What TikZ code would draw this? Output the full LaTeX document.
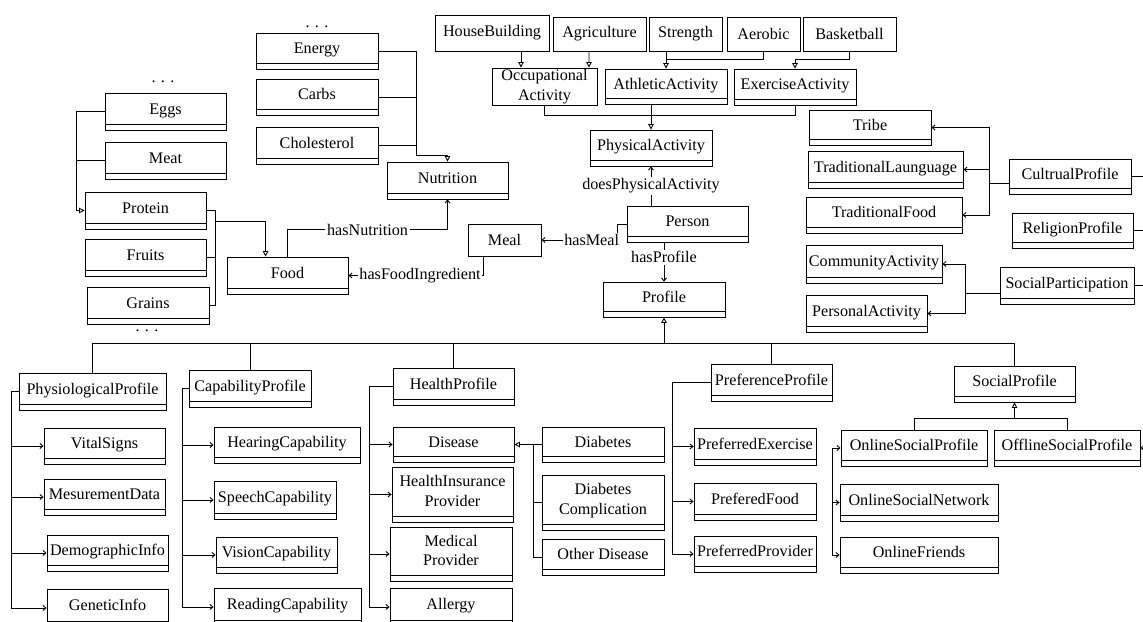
\documentclass[tikz,border=0pt]{standalone}
\usepackage{fontspec}
\setmainfont{Liberation Serif}
\usetikzlibrary{arrows.meta,calc}

\begin{document}
\begin{tikzpicture}[
    x=0.02cm, y=-0.02cm,
    line width=0.5pt,
    plainbox/.style={
        draw=black,
        fill=white,
        inner sep=0pt,
        align=center,
        font=\fontsize{9.2}{11}\selectfont},
    classbox/.style={
        plainbox,
        path picture={\draw[line width=0.8pt]
            ([yshift=0.11cm]path picture bounding box.south west) --
            ([yshift=0.11cm]path picture bounding box.south east);},
        execute at end node={\rule[-4pt]{0pt}{11pt}}},
    wh/.style 2 args={minimum width=#1*0.02cm, minimum height=#2*0.02cm},
    genarrow/.style={-{Triangle[open,length=1.1mm,width=1.1mm]}},
    assocarrow/.style={-{Straight Barb[length=0.6mm,width=1mm]}},
    rolelabel/.style={fill=white, inner sep=1pt, font=\fontsize{9.2}{11}\selectfont},
    elide/.style={inner sep=0pt, font=\fontsize{9.2}{11}\selectfont}
]
\useasboundingbox (0,0) rectangle (1143,622);

% food and nutrition
\node[elide] (ndots) at (317,27) {. . .};
\node[classbox, wh={122}{36}] (energy) at (317,51) {Energy};
\node[classbox, wh={122}{36}] (carbs) at (317,97) {Carbs};
\node[classbox, wh={122}{37}] (chol) at (317,145.5) {Cholesterol};
\node[classbox, wh={121}{37}] (nutrition) at (447.5,180.5) {Nutrition};
\node[elide] (fdots) at (163,82) {. . .};
\node[classbox, wh={121}{37}] (eggs) at (165.5,111.5) {Eggs};
\node[classbox, wh={121}{37}] (meat) at (165.5,160.5) {Meat};
\node[classbox, wh={121}{37}] (protein) at (145.5,210.5) {Protein};
\node[classbox, wh={121}{37}] (fruits) at (145.5,257.5) {Fruits};
\node[classbox, wh={122}{37}] (grains) at (148,305.5) {Grains};
\node[elide] (gdots) at (147,331) {. . .};
\node[classbox, wh={121}{37}] (food) at (287.5,275.5) {Food};
\node[plainbox, wh={73}{32}] (meal) at (504.5,240) {Meal};

% activities
\node[plainbox, wh={114}{36}] (house) at (492,33) {HouseBuilding};
\node[plainbox, wh={93}{34}] (agri) at (599.5,34) {Agriculture};
\node[plainbox, wh={73}{34}] (strength) at (685.5,34) {Strength};
\node[plainbox, wh={73}{34}] (aerobic) at (763.5,34) {Aerobic};
\node[plainbox, wh={93}{34}] (basket) at (849.5,34) {Basketball};
\node[plainbox, wh={105}{37}] (occup) at (544.5,86.5) {Occupational\\Activity};
\node[classbox, wh={122}{35}] (athletic) at (666,86.5) {AthleticActivity};
\node[classbox, wh={122}{36}] (exercise) at (795,87) {ExerciseActivity};
\node[classbox, wh={122}{36}] (physact) at (651,148) {PhysicalActivity};
\node[classbox, wh={121}{36}] (person) at (687.5,224) {Person};
\node[classbox, wh={122}{35}] (profile) at (664,299.5) {Profile};

% culture and participation
\node[classbox, wh={122}{35}] (tribe) at (870,127.5) {Tribe};
\node[classbox, wh={155}{37}] (tradlang) at (885.5,169.5) {TraditionalLaunguage};
\node[classbox, wh={156}{36}] (tradfood) at (884,215) {TraditionalFood};
\node[classbox, wh={122}{35}] (cultural) at (1070,176.5) {CultrualProfile};
\node[classbox, wh={121}{35}] (religion) at (1072.5,230.5) {ReligionProfile};
\node[classbox, wh={136}{38}] (community) at (874,264) {CommunityActivity};
\node[classbox, wh={121}{37}] (personal) at (866.5,313.5) {PersonalActivity};
\node[classbox, wh={134}{37}] (socpart) at (1067,285.5) {SocialParticipation};

% profile tree
\node[classbox, wh={147}{37}] (physio) at (92.5,391.5) {PhysiologicalProfile};
\node[classbox, wh={121}{36}] (vital) at (104.5,446) {VitalSigns};
\node[classbox, wh={121}{36}] (mesure) at (104.5,497) {MesurementData};
\node[classbox, wh={121}{36}] (demo) at (107.5,553) {DemographicInfo};
\node[classbox, wh={121}{38}] (genetic) at (107.5,608) {GeneticInfo};
\node[classbox, wh={122}{37}] (capab) at (250,388.5) {CapabilityProfile};
\node[classbox, wh={146}{36}] (hearing) at (287,445) {HearingCapability};
\node[classbox, wh={122}{38}] (speech) at (275,500) {SpeechCapability};
\node[classbox, wh={121}{36}] (vision) at (276.5,555) {VisionCapability};
\node[classbox, wh={147}{38}] (reading) at (287.5,607) {ReadingCapability};
\node[classbox, wh={121}{37}] (health) at (453.5,386.5) {HealthProfile};
\node[classbox, wh={121}{35}] (disease) at (453.5,444.5) {Disease};
\node[classbox, wh={121}{55}] (insur) at (452.5,494.5) {HealthInsurance\\Provider};
\node[classbox, wh={122}{54}] (medprov) at (451,554) {Medical\\Provider};
\node[classbox, wh={122}{38}] (allergy) at (451,607) {Allergy};
\node[classbox, wh={122}{35}] (diab) at (603,444.5) {Diabetes};
\node[classbox, wh={122}{55}] (diabcomp) at (603,502.5) {Diabetes\\Complication};
\node[classbox, wh={122}{36}] (otherdis) at (603,557) {Other Disease};
\node[classbox, wh={121}{37}] (pref) at (771.5,382.5) {PreferenceProfile};
\node[classbox, wh={122}{37}] (prefex) at (755,446.5) {PreferredExercise};
\node[classbox, wh={122}{37}] (preffood) at (755,501.5) {PreferedFood};
\node[classbox, wh={122}{36}] (prefprov) at (755,554) {PreferredProvider};
\node[classbox, wh={121}{36}] (social) at (1014.5,384) {SocialProfile};
\node[classbox, wh={146}{36}] (online) at (914,448) {OnlineSocialProfile};
\node[classbox, wh={146}{36}] (offline) at (1067,448) {OfflineSocialProfile};
\node[classbox, wh={158}{37}] (onnet) at (919,502.5) {OnlineSocialNetwork};
\node[classbox, wh={158}{36}] (onfriends) at (919,555) {OnlineFriends};

% bus lines
\coordinate (nbus) at (416,155);
\coordinate (ebus) at (76,0);
\coordinate (fbus) at (215,221);
\coordinate (cbus) at (990,0);
\coordinate (redge) at (1143,0);
\coordinate (pbus) at (0,343);
\coordinate (phbus) at (11,0);
\coordinate (cpbus) at (182,0);
\coordinate (hpbus) at (369,0);
\coordinate (dbus) at (533,0);
\coordinate (prbus) at (672,0);
\coordinate (obus) at (832,0);

% nutrition and food
\draw (energy.east) -| (nbus);
\draw (carbs.east) -- (carbs.east -| nbus);
\draw (chol.east) -- (chol.east -| nbus);
\draw[genarrow] (nbus) -| (nutrition.north);
\draw[genarrow] (eggs.west) -- (eggs.west -| ebus) |- (protein.west);
\draw (meat.west) -- (meat.west -| ebus);
\draw (protein.east) -- (protein.east -| fbus) |- (grains.east);
\draw (fruits.east) -- (fruits.east -| fbus);
\draw[genarrow] (fbus) -| ($(food.north west)+(39,0)$);
\draw[assocarrow] (food.north) -- ++(0,-27) -| (nutrition.south)
    node[rolelabel, pos=0.25] {hasNutrition};
\draw[assocarrow] ($(meal.south west)+(16,0)$) |- (food.east)
    node[rolelabel, pos=0.735] {hasFoodIngredient};
\draw[assocarrow] (person.west) -- ++(-9,0) |- (meal.east)
    node[rolelabel, pos=0.67] {hasMeal};
\draw[assocarrow] (physact.south |- person.north) -- (physact.south)
    node[rolelabel, midway] {doesPhysicalActivity};
\draw[assocarrow] (profile.north |- person.south) -- (profile.north)
    node[rolelabel, pos=0.375] {hasProfile};

% activities
\draw[genarrow] ($(house.south)+(29,0)$) -- ($(occup.north)+(-23.5,0)$);
\draw[genarrow] ($(agri.south)+(-10.5,0)$) -- ($(occup.north)+(44.5,0)$);
\draw[genarrow] ($(strength.south)+(-19.5,0)$) -- (athletic.north);
\draw (aerobic.south) |- ($(athletic.north)+(0,-9)$);
\draw[genarrow] (basket.south) |- ($(exercise.north)+(0,-9)$) -- (exercise.north);
\draw (occup.south) |- ($(physact.north)+(0,-14)$);
\draw (exercise.south) |- ($(physact.north)+(0,-14)$);
\draw[genarrow] (athletic.south -| physact.north) -- (physact.north);

% culture and participation
\draw ($(cultural.west)+(0,6.5)$) -- ($(cultural.west)+(-19,6.5)$);
\draw[assocarrow] ($(cultural.west)+(-19,6.5)$) |- (tribe.east);
\draw[assocarrow] ($(cultural.west)+(-19,6.5)$) |- (tradfood.east);
\draw[assocarrow] (tradlang.east -| cbus) -- (tradlang.east);
\draw ($(socpart.west)+(0,7.5)$) -- ($(socpart.west)+(-34,7.5)$);
\draw[assocarrow] ($(socpart.west)+(-34,7.5)$) |- (community.east);
\draw[assocarrow] ($(socpart.west)+(-34,7.5)$) |- (personal.east);
\draw (cultural.east) -- (cultural.east -| redge);
\draw (religion.east) -- (religion.east -| redge);
\draw (socpart.east) -- (socpart.east -| redge);
\draw[assocarrow] (offline.east -| redge) -- (offline.east);

% profile tree
\draw[genarrow] (profile.south |- pbus) -- (profile.south);
\draw (physio.north |- pbus) -- (social.north |- pbus);
\foreach \p in {physio,capab,health,pref,social}
    \draw (\p.north |- pbus) -- (\p.north);
\draw[assocarrow] (physio.west) -| (genetic.west -| phbus) -- (genetic.west);
\foreach \c in {vital,mesure,demo}
    \draw[assocarrow] (\c.west -| phbus) -- (\c.west);
\draw[assocarrow] (capab.west) -| (reading.west -| cpbus) -- (reading.west);
\foreach \c in {hearing,speech,vision}
    \draw[assocarrow] (\c.west -| cpbus) -- (\c.west);
\draw[assocarrow] (health.west) -| (allergy.west -| hpbus) -- (allergy.west);
\foreach \c in {disease,insur,medprov}
    \draw[assocarrow] (\c.west -| hpbus) -- (\c.west);
\draw[genarrow] (diab.west) -- (disease.east);
\draw (diab.west -| dbus) |- (otherdis.west);
\draw (diabcomp.west) -- (diabcomp.west -| dbus);
\draw[assocarrow] (pref.west) -| (prefprov.west -| prbus) -- (prefprov.west);
\foreach \c in {prefex,preffood}
    \draw[assocarrow] (\c.west -| prbus) -- (\c.west);
\draw (online.north) |- ($(social.south)+(0,16)$) -| (offline.north);
\draw[genarrow] ($(social.south)+(0,16)$) -- (social.south);
\draw[assocarrow] (onfriends.west -| obus) |- (online.west);
\foreach \c in {onnet,onfriends}
    \draw[assocarrow] (\c.west -| obus) -- (\c.west);

\end{tikzpicture}
\end{document}
